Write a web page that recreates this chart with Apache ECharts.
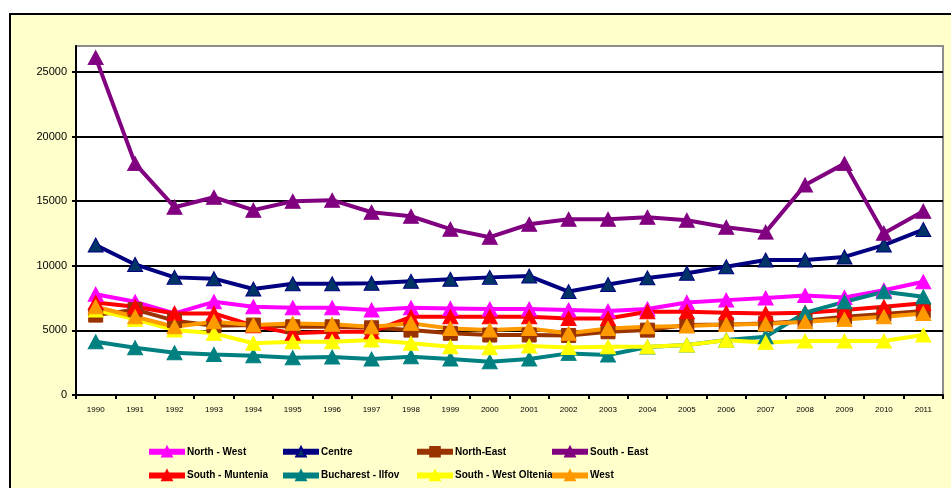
<!DOCTYPE html>
<html>
<head>
<meta charset="utf-8">
<script src="https://cdn.jsdelivr.net/npm/echarts@6/dist/echarts.min.js"></script>
<style>
  html, body { margin: 0; padding: 0; background: #fff; }
  #wrap { position: relative; width: 951px; height: 488px; overflow: hidden; }
  #frame { position: absolute; left: 9px; top: 13px; width: 960px; height: 500px;
           background: #ffffcc; border: 2px solid #000; }
  #chart { position: absolute; left: 0; top: 0; width: 951px; height: 488px; }
</style>
</head>
<body>
<div id="wrap">
  <div id="frame"></div>
  <div id="chart"></div>
</div>
<script>
const years = ['1990', '1991', '1992', '1993', '1994', '1995', '1996', '1997', '1998', '1999', '2000',
  '2001', '2002', '2003', '2004', '2005', '2006', '2007', '2008', '2009', '2010', '2011']

const northWest = [7800, 7210, 6310, 7210, 6830, 6750, 6750, 6570, 6750, 6700, 6650,
  6650, 6570, 6490, 6650, 7160, 7340, 7500, 7700, 7550, 8100, 8760]
const centre = [11600, 10100, 9100, 9000, 8200, 8600, 8600, 8650, 8800, 8950, 9100,
  9200, 8000, 8550, 9060, 9420, 9920, 10440, 10450, 10680, 11600, 12800]
const northEast = [6180, 6600, 5750, 5360, 5410, 5280, 5280, 5200, 5020, 4770, 4640,
  4640, 4600, 4890, 5020, 5410, 5460, 5540, 5750, 6050, 6260, 6500]
const southEast = [26100, 17900, 14530, 15300, 14300, 14990, 15070, 14140, 13830, 12830, 12210,
  13210, 13600, 13600, 13750, 13520, 12980, 12600, 16250, 17900, 12520, 14220]
const southMuntenia = [7150, 6830, 6310, 6310, 5360, 4770, 4890, 4890, 6050, 6050, 6050,
  6050, 5920, 5920, 6440, 6440, 6360, 6310, 6360, 6570, 6830, 7090]
const bucharestIlfov = [4120, 3660, 3270, 3140, 3040, 2890, 2940, 2780, 2960, 2780, 2580,
  2780, 3220, 3090, 3710, 3860, 4250, 4510, 6360, 7210, 7980, 7600]
const southWestOltenia = [6570, 5850, 5020, 4770, 4000, 4120, 4120, 4250, 4000, 3730, 3660,
  3790, 3680, 3730, 3730, 3860, 4230, 4070, 4170, 4170, 4170, 4640]
const west = [6830, 6050, 5280, 5670, 5410, 5540, 5480, 5280, 5540, 5150, 5020,
  5150, 4770, 5150, 5280, 5330, 5450, 5500, 5670, 5850, 6050, 6310]

const chart = echarts.init(document.getElementById('chart'))

function line(name, data, color, opts = {}) {
  return {
    name,
    type: 'line',
    data,
    symbol: opts.symbol || 'triangle',
    symbolSize: opts.size || [15, 14],
    lineStyle: { color, width: 4 },
    itemStyle: {
      color: opts.fill || color,
      borderColor: color,
      borderWidth: 1
    },
    emphasis: { disabled: true },
    animation: false
  }
}

const legendBase = {
  orient: 'vertical',
  top: 446,
  padding: 0,
  itemGap: 12,
  itemWidth: 36,
  itemHeight: 12,
  textStyle: {
    fontFamily: 'Liberation Sans',
    fontSize: 10,
    fontWeight: 'bold',
    color: '#000',
    padding: [0, 0, 0, -3]
  },
  lineStyle: { width: 6 }
}

chart.setOption({
  backgroundColor: 'transparent',
  grid: {
    left: 76, top: 46, right: 8, bottom: 93,
    show: true,
    backgroundColor: '#fff',
    borderColor: '#8c8c8c',
    borderWidth: 2
  },
  legend: [
    { ...legendBase, left: 146, data: ['North - West', 'South - Muntenia'] },
    { ...legendBase, left: 280, data: ['Centre', 'Bucharest - Ilfov'] },
    { ...legendBase, left: 414, data: ['North-East', 'South - West Oltenia'] },
    { ...legendBase, left: 549, data: ['South - East', 'West'] }
  ],
  xAxis: {
    type: 'category',
    data: years,
    boundaryGap: true,
    axisLine: { lineStyle: { color: '#000', width: 2 } },
    axisTick: { show: true, length: 4, lineStyle: { color: '#000', width: 2 } },
    axisLabel: { fontFamily: 'Liberation Sans', fontSize: 8, color: '#000', margin: 11 },
    splitLine: { show: false }
  },
  yAxis: {
    type: 'value',
    min: 0,
    max: 27000,
    interval: 5000,
    axisLine: { show: true, lineStyle: { color: '#000', width: 2 } },
    axisTick: { show: true, length: 4, lineStyle: { color: '#000', width: 2 } },
    axisLabel: {
      fontFamily: 'Liberation Sans', fontSize: 11, color: '#000', margin: 9,
      showMaxLabel: false,
      formatter: (v) => String(v)
    },
    splitLine: { show: true, showMaxLine: false, lineStyle: { color: '#000', width: 2 } }
  },
  series: [
    line('North - West', northWest, '#ff00ff'),
    line('Centre', centre, '#000080', { fill: '#003366' }),
    line('North-East', northEast, '#993300', { symbol: 'rect', size: 14 }),
    line('South - East', southEast, '#800080'),
    line('South - Muntenia', southMuntenia, '#ff0000'),
    line('Bucharest - Ilfov', bucharestIlfov, '#008080'),
    line('South - West Oltenia', southWestOltenia, '#ffff00'),
    line('West', west, '#ff9900')
  ]
})
</script>
</body>
</html>
